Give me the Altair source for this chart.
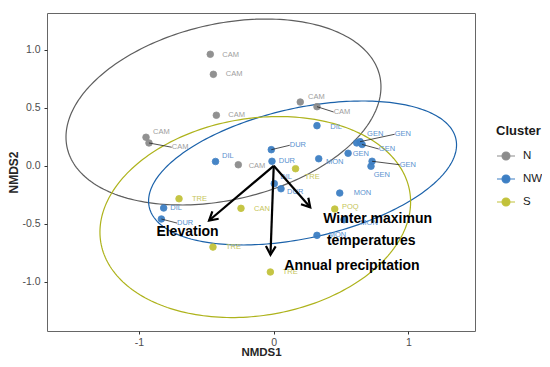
import altair as alt
import numpy as np
import pandas as pd

# ---------------- data ----------------
clusters = ["N", "NW", "S"]
point_colors = ["#8c8c8c", "#3d7fc4", "#c2c23a"]
ellipse_colors = ["#5e5e5e", "#1b62aa", "#aeb31c"]
label_colors = ["#9e9e9e", "#5a92cf", "#c6c55a"]

# sites (NMDS scores) and repelled label anchors
n_lab = ["CAM", "CAM", "CAM", "CAM", "CAM", "CAM", "CAM", "CAM"]
n_x = [-0.471, -0.448, -0.426, -0.948, -0.926, 0.197, 0.321, -0.263]
n_y = [0.962, 0.789, 0.436, 0.246, 0.197, 0.550, 0.510, 0.009]
n_lx = [-0.382, -0.356, -0.337, -0.896, -0.757, 0.255, 0.445, -0.186]
n_ly = [0.959, 0.789, 0.436, 0.294, 0.160, 0.594, 0.464, -0.002]
n_seg = [0, 0, 0, 0, 1, 0, 1, 0]

nw_lab = ["DIL", "DUR", "DUR", "MON", "GEN", "GEN", "GEN", "GEN", "GEN", "GEN",
          "MON", "DIL", "DIL", "DUR", "DIL", "DUR", "MON", "MON"]
nw_x = [0.321, -0.018, -0.013, 0.334, 0.552, 0.616, 0.641, 0.656, 0.730, 0.722,
        0.490, -0.432, 0.004, 0.054, -0.817, -0.834, 0.522, 0.321]
nw_y = [0.346, 0.139, 0.039, 0.061, 0.108, 0.197, 0.208, 0.184, 0.039, -0.004,
        -0.235, 0.037, -0.154, -0.198, -0.364, -0.459, -0.465, -0.600]
nw_lx = [0.420, 0.119, 0.037, 0.388, 0.586, 0.693, 0.898, 0.780, 0.935, 0.742,
         0.594, -0.384, 0.049, 0.099, -0.768, -0.718, 0.643, 0.408]
nw_ly = [0.332, 0.177, 0.044, 0.030, 0.104, 0.272, 0.272, 0.145, 0.009, -0.082,
         -0.235, 0.082, -0.097, -0.229, -0.364, -0.494, -0.494, -0.600]
nw_seg = [0, 1, 0, 0, 0, 0, 1, 1, 1, 0, 0, 0, 0, 0, 0, 1, 0, 0]

s_lab = ["TRE", "CAN", "POQ", "TRE", "TRE", "TRE"]
s_x = [0.162, -0.243, 0.453, -0.703, -0.451, -0.025]
s_y = [-0.025, -0.367, -0.373, -0.284, -0.701, -0.916]
s_lx = [0.230, -0.146, 0.507, -0.607, -0.354, 0.067]
s_ly = [-0.097, -0.370, -0.358, -0.284, -0.703, -0.916]
s_seg = [0, 0, 0, 0, 0, 0]

# 95% ellipses per cluster: centre, half-extents, correlation
ell_cx = [-0.373, 0.214, -0.137]
ell_cy = [0.464, -0.062, -0.442]
ell_sx = [1.169, 1.143, 1.153]
ell_sy = [0.802, 0.621, 0.867]
ell_rho = [0.27, 0.39, 0.15]

# environmental vectors
vec_name = ["Elevation", "Annual precipitation", "Winter maximun temperatures"]
vec_x = [-0.480, -0.024, 0.271]
vec_y = [-0.472, -0.767, -0.358]

vec_text = ["Elevation", "Winter maximun", "temperatures", "Annual precipitation"]
vec_tx = [-0.640, 0.771, 0.724, 0.581]
vec_ty = [-0.574, -0.459, -0.646, -0.862]

x_ticks = [-1, 0, 1]
y_ticks = [-1.0, -0.5, 0.0, 0.5, 1.0]
x_dom = [-1.683, 1.494]
y_dom = [-1.425, 1.318]

W, H = 428, 318
FONT = "Liberation Sans"

# ---------------- tables ----------------
pts = pd.DataFrame({
    "Cluster": ["N"] * len(n_x) + ["NW"] * len(nw_x) + ["S"] * len(s_x),
    "site": n_lab + nw_lab + s_lab,
    "x": n_x + nw_x + s_x,
    "y": n_y + nw_y + s_y,
    "lx": n_lx + nw_lx + s_lx,
    "ly": n_ly + nw_ly + s_ly,
    "seg": n_seg + nw_seg + s_seg,
})

rows = []
t = np.linspace(0, 2 * np.pi, 241)
for c, cx, cy, sx, sy, r in zip(clusters, ell_cx, ell_cy, ell_sx, ell_sy, ell_rho):
    ex = cx + sx * np.cos(t)
    ey = cy + sy * (r * np.cos(t) + np.sqrt(1 - r * r) * np.sin(t))
    for i, (a, b) in enumerate(zip(ex, ey)):
        rows.append({"Cluster": c, "i": i, "x": a, "y": b})
ell = pd.DataFrame(rows)

kx = W / (x_dom[1] - x_dom[0])
ky = H / (y_dom[1] - y_dom[0])
vec = pd.DataFrame({"name": vec_name, "x": vec_x, "y": vec_y})
vec["x0"] = 0.0
vec["y0"] = 0.0
vec["ang"] = (np.degrees(np.arctan2(vec["x"] * kx, vec["y"] * ky)) + 360) % 360

vtext = pd.DataFrame({"text": vec_text, "x": vec_tx, "y": vec_ty})

xs = alt.Scale(domain=x_dom, nice=False, zero=False)
ys = alt.Scale(domain=y_dom, nice=False, zero=False)

X = alt.X("x:Q", scale=xs, title="NMDS1",
          axis=alt.Axis(values=x_ticks, labelPadding=3,
                        labelExpr="(datum.value < 0 ? '-' : '') + format(abs(datum.value), 'd')"))
Y = alt.Y("y:Q", scale=ys, title="NMDS2",
          axis=alt.Axis(values=y_ticks,
                        labelExpr="(datum.value < 0 ? '-' : '') + format(abs(datum.value), '.1f')"))

ellipses = alt.Chart(ell).mark_line(strokeWidth=1.2).encode(
    x=X, y=Y, order="i:Q",
    color=alt.Color("Cluster:N", scale=alt.Scale(domain=clusters, range=ellipse_colors), legend=None),
    detail="Cluster:N",
)

legend = alt.Legend(
    title="Cluster", orient="none", legendX=449, legendY=112,
    symbolType="M-1,0H1M0.444,0A0.444,0.444,0,1,1,-0.444,0A0.444,0.444,0,1,1,0.444,0Z",
    symbolSize=324, symbolStrokeWidth=1.1, symbolOpacity=1,
    rowPadding=6, labelOffset=7, titlePadding=8,
    titleFontSize=13, titleFontWeight="bold", titleColor="#1a1a1a", titleFont=FONT,
    labelFontSize=11.5, labelColor="#1a1a1a", labelFont=FONT,
)

points = alt.Chart(pts).mark_point(filled=True, size=44, opacity=0.95, strokeWidth=0.8).encode(
    x=X, y=Y,
    color=alt.Color("Cluster:N", scale=alt.Scale(domain=clusters, range=point_colors), legend=legend),
    stroke=alt.Stroke("Cluster:N", scale=alt.Scale(domain=clusters, range=point_colors), legend=legend),
)

segs = alt.Chart(pts).transform_filter("datum.seg == 1").mark_rule(
    color="#222222", strokeWidth=0.8).encode(
    x=X, y=Y, x2="lx:Q", y2="ly:Q")

labels = alt.Chart(pts).mark_text(align="left", baseline="middle", fontSize=7.5, font=FONT).encode(
    x=alt.X("lx:Q", scale=xs), y=alt.Y("ly:Q", scale=ys), text="site:N",
    color=alt.Color("Cluster:N", scale=alt.Scale(domain=clusters, range=label_colors), legend=None),
)

shafts = alt.Chart(vec).mark_rule(color="black", strokeWidth=2.2).encode(
    x=alt.X("x0:Q", scale=xs), y=alt.Y("y0:Q", scale=ys), x2="x:Q", y2="y:Q")

heads = alt.Chart(vec).mark_point(
    shape="M-0.5,0.866L0,0L0.5,0.866", filled=False, size=380,
    strokeWidth=2.2, color="black", opacity=1).encode(
    x=alt.X("x:Q", scale=xs), y=alt.Y("y:Q", scale=ys),
    angle=alt.Angle("ang:Q", scale=None))

vlabels = alt.Chart(vtext).mark_text(
    align="center", baseline="middle", fontSize=14, fontWeight="bold", font=FONT, color="black").encode(
    x=alt.X("x:Q", scale=xs), y=alt.Y("y:Q", scale=ys), text="text:N")

chart = alt.layer(ellipses, points, segs, labels, shafts, heads, vlabels).resolve_scale(
    color="independent", stroke="independent"
).properties(
    width=W, height=H,
    autosize=alt.AutoSizeParams(type="none"),
    padding={"left": 39, "top": 5, "right": 67, "bottom": 28},
).configure_view(
    stroke="#666666", strokeWidth=1
).configure_axis(
    grid=False, domain=False, ticks=True, tickSize=3, tickColor="#333333", tickWidth=1,
    labelFont=FONT, labelFontSize=10.5, labelColor="#4d4d4d", labelPadding=4,
    titleFont=FONT, titleFontSize=12, titleFontWeight="bold", titleColor="#262626",
).configure_axisX(titlePadding=-1, titleFontSize=11.5).configure_axisY(titlePadding=1)

chart.save("out.html", embed_options={"renderer": "svg", "actions": False})
